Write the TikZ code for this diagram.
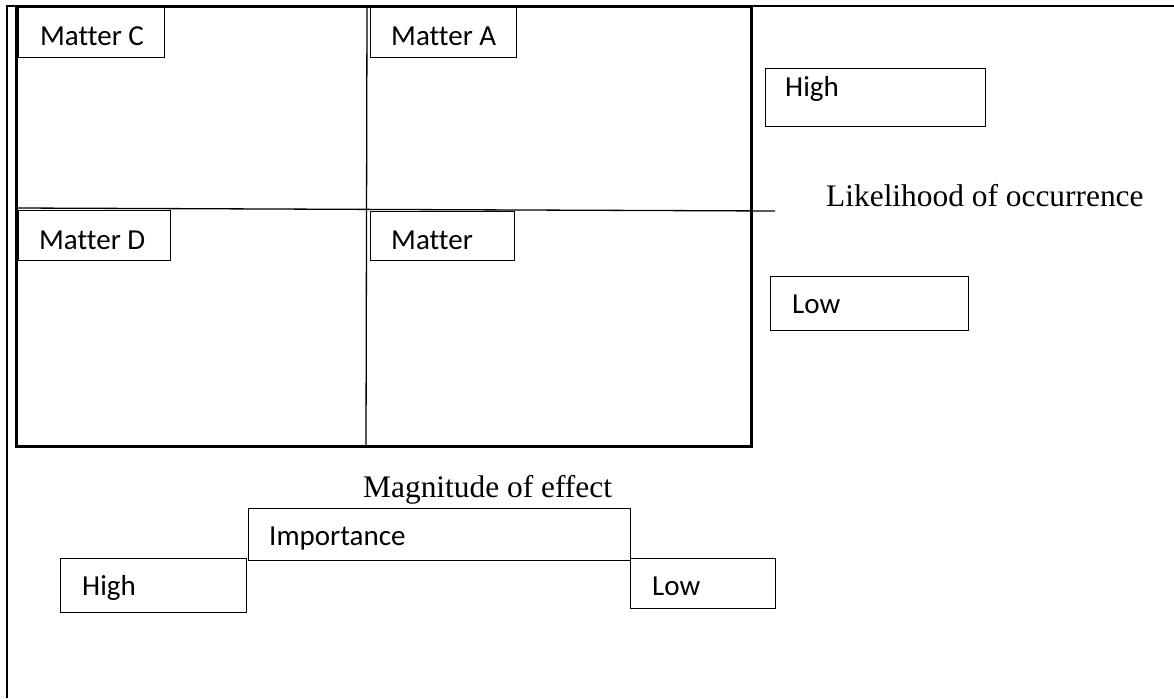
\documentclass[tikz,border=0pt]{standalone}
\usepackage{fontspec}
\newfontfamily\boxfont[Ligatures=NoCommon]{Carlito}
\newfontfamily\axisfont{Liberation Serif}
\tikzset{
  frameline/.style={line width=2.6pt, black},
  gridbox/.style={line width=3pt, black},
  gridline/.style={line width=1.3pt, black},
  tagbox/.style={draw, line width=1.4pt, rectangle, inner sep=0pt, anchor=north west},
  tagtext/.style={font=\boxfont\fontsize{29}{30}\selectfont, inner sep=0pt, anchor=base west},
  axistext/.style={font=\axisfont\fontsize{31.4}{33}\selectfont, inner sep=0pt, anchor=base west}
}
\begin{document}
\begin{tikzpicture}[x=1pt, y=-1pt]
\useasboundingbox (0,0) rectangle (1174,698);

% page frame: top and left rules
\coordinate (fTL) at (7,6);
\coordinate (fTR) at (1174,6);
\coordinate (fBL) at (7,698);
\draw[frameline] (fTR) -- (fTL) -- (fBL);

% quadrant grid
\coordinate (gTL) at (16,7);
\coordinate (gBR) at (751,446);
\coordinate (hL) at (16,208);
\coordinate (hR) at (775,211);
\coordinate (vT) at (367,7);
\coordinate (vB) at (366,446);
\draw[gridline] (hL) -- (hR);
\draw[gridline] (vT) -- (vB);

% quadrant labels
\node[tagbox, minimum width=146pt, minimum height=50pt] (boxC) at (18,7) {};
\node[tagbox, minimum width=146pt, minimum height=50pt] (boxA) at (370,7) {};
\node[tagbox, minimum width=152pt, minimum height=50pt] (boxD) at (18,210) {};
\node[tagbox, minimum width=144pt, minimum height=49pt] (boxM) at (370,211) {};
\node[tagtext] (txtC) at (40,46) {Matter C};
\node[tagtext] (txtA) at (391,46) {Matter A};
\node[tagtext] (txtD) at (39,249) {Matter D};
\node[tagtext] (txtM) at (391,249) {Matter};

\draw[gridbox] (gTL) rectangle (gBR);

% likelihood axis
\node[tagbox, minimum width=220pt, minimum height=58pt] (boxHR) at (765,68) {};
\node[tagtext] (txtHR) at (785,97) {High};
\node[axistext] (likely) at (826,206) {Likelihood of occurrence};
\node[tagbox, minimum width=198pt, minimum height=54pt] (boxLR) at (770,276) {};
\node[tagtext] (txtLR) at (792,313) {Low};

% magnitude axis
\node[axistext] (magn) at (363,497) {Magnitude of effect};
\node[tagbox, minimum width=382pt, minimum height=52pt] (boxImp) at (248,508) {};
\node[tagtext] (txtImp) at (269,545) {Importance};
\node[tagbox, minimum width=186pt, minimum height=54pt] (boxHB) at (60,558) {};
\node[tagtext] (txtHB) at (82,595) {High};
\node[tagbox, minimum width=145pt, minimum height=50pt] (boxLB) at (630,558) {};
\node[tagtext] (txtLB) at (652,595) {Low};
\end{tikzpicture}
\end{document}
